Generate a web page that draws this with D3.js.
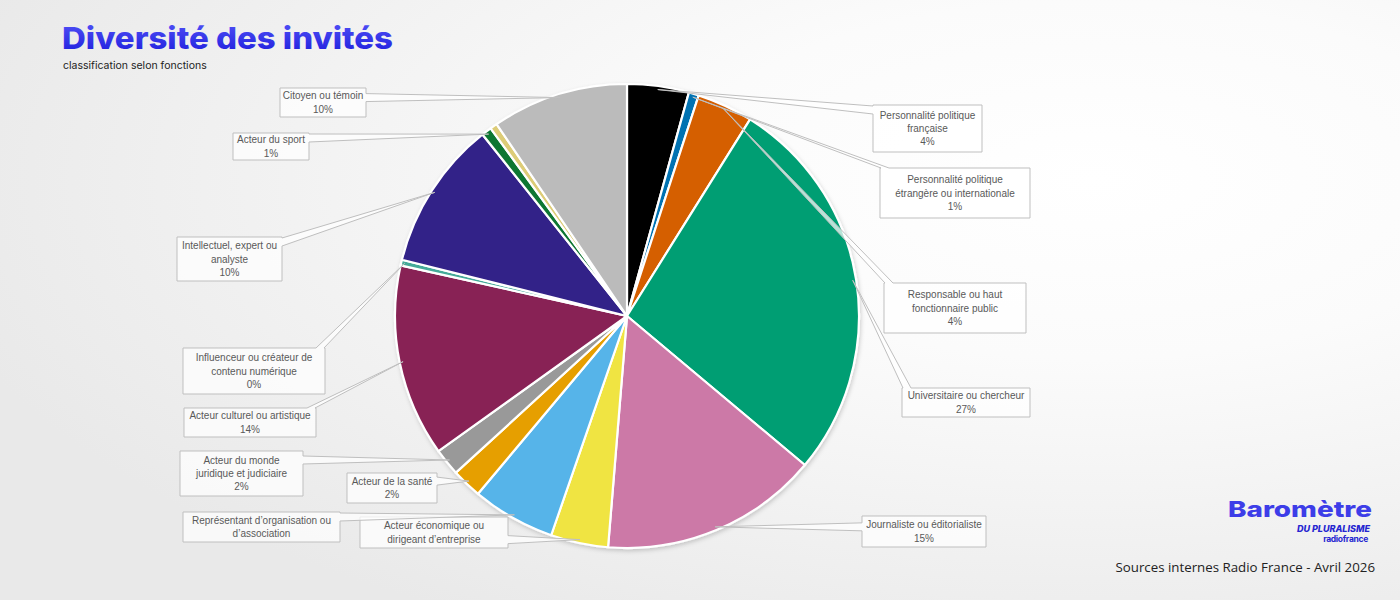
<!DOCTYPE html>
<html>
<head>
<meta charset="utf-8">
<script src="https://cdn.jsdelivr.net/npm/d3@7"></script>
<style>
  body { margin: 0; padding: 0; overflow: hidden; }
  #chart svg { display: block; }
</style>
</head>
<body>
<div id="chart"></div>
<script>
// categories, clockwise from 12 o'clock
var categories = [
  "Personnalité politique\nfrançaise",
  "Personnalité politique\nétrangère ou internationale",
  "Responsable ou haut\nfonctionnaire public",
  "Universitaire ou chercheur",
  "Journaliste ou éditorialiste",
  "Acteur économique ou\ndirigeant d’entreprise",
  "Représentant d’organisation ou\nd’association",
  "Acteur de la santé",
  "Acteur du monde\njuridique et judiciaire",
  "Acteur culturel ou artistique",
  "Influenceur ou créateur de\ncontenu numérique",
  "Intellectuel, expert ou\nanalyste",
  "Acteur du sport",
  "Autre",
  "Citoyen ou témoin"
];

// share of guests (%)
var values = [4.3, 0.7, 3.9, 27.2, 15.2, 4.0, 5.8, 2.1, 1.9, 13.4, 0.4, 10.4, 0.7, 0.5, 9.5];

// percentage shown in each label ("" where the picture shows none)
var pctLabels = ["4%", "1%", "4%", "27%", "15%", "", "", "2%", "2%", "14%", "0%", "10%", "1%", null, "10%"];

var colors = ["#000000", "#0072b2", "#d55e00", "#009e73", "#cc79a7", "#f0e442", "#56b4e9",
              "#e69f00", "#999999", "#882255", "#44aa99", "#332288", "#117733", "#ddcc77", "#bbbbbb"];

// callout boxes: [x, y, width, height]
var boxes = [
  [873, 105, 109, 47],
  [880, 168, 150, 50],
  [884, 283, 142, 50],
  [902, 388, 128, 29],
  [862, 516, 124, 31],
  [360, 517, 148, 31],
  [183, 512, 157, 30],
  [347, 473, 90, 30],
  [180, 451, 123, 45],
  [184, 408, 132, 29],
  [183, 348, 142, 46],
  [177, 237, 105, 44],
  [233, 133, 76, 27],
  null,
  [280, 88, 86, 29]
];

function init() {
  var w = 1400, h = 600;
  var cx = 627, cy = 316, R = 232;

  var svg = d3.select("#chart").append("svg")
    .attr("width", w).attr("height", h);

  var defs = svg.append("defs");

  var bg = defs.append("radialGradient").attr("id", "bg")
    .attr("cx", "0.78").attr("cy", "0.3").attr("r", "0.85");
  bg.append("stop").attr("offset", "0").attr("stop-color", "#ffffff");
  bg.append("stop").attr("offset", "0.35").attr("stop-color", "#fbfbfb");
  bg.append("stop").attr("offset", "1").attr("stop-color", "#e9e9e9");

  var tg = defs.append("linearGradient").attr("id", "titleGrad")
    .attr("x1", 0).attr("y1", 0).attr("x2", 0).attr("y2", 1);
  tg.append("stop").attr("offset", "0").attr("stop-color", "#5252f7");
  tg.append("stop").attr("offset", "1").attr("stop-color", "#1c1cdc");

  var sh = defs.append("filter").attr("id", "shadow")
    .attr("x", "-10%").attr("y", "-10%").attr("width", "120%").attr("height", "120%");
  sh.append("feDropShadow").attr("dx", 1).attr("dy", 2).attr("stdDeviation", 2)
    .attr("flood-color", "#000").attr("flood-opacity", 0.18);

  svg.append("rect").attr("width", w).attr("height", h).attr("fill", "url(#bg)");

  // title
  svg.append("text")
    .attr("x", 62).attr("y", 49)
    .attr("font-family", "Inter, 'Noto Sans', sans-serif")
    .attr("font-weight", 800)
    .attr("font-size", 30)
    .attr("textLength", 331).attr("lengthAdjust", "spacingAndGlyphs")
    .attr("fill", "url(#titleGrad)")
    .text("Diversité des invités");

  svg.append("text")
    .attr("x", 63).attr("y", 69)
    .attr("font-family", "Inter, 'Noto Sans', sans-serif")
    .attr("font-size", 10.5)
    .attr("fill", "#222")
    .text("classification selon fonctions");

  // pie
  var pie = d3.pie().sort(null).value(function(d) { return d; });
  var arcs = pie(values);
  var arc = d3.arc().innerRadius(0).outerRadius(R);
  var tipArc = d3.arc().innerRadius(R * 0.985).outerRadius(R * 0.985);

  var g = svg.append("g").attr("transform", "translate(" + cx + "," + cy + ")");
  g.append("g").attr("filter", "url(#shadow)")
    .selectAll("path")
    .data(arcs)
    .enter()
    .append("path")
    .attr("d", arc)
    .attr("fill", function(d, i) { return colors[i]; })
    .attr("stroke", "#ffffff")
    .attr("stroke-width", 2.2)
    .attr("stroke-linejoin", "round");

  // callout shape: rectangle with a wedge to the tip
  function calloutPath(b, tx, ty) {
    var x0 = b[0], y0 = b[1], x1 = b[0] + b[2], y1 = b[1] + b[3];
    var bx = (x0 + x1) / 2, by = (y0 + y1) / 2;
    var dx = (tx - bx) / (b[2] / 2), dy = (ty - by) / (b[3] / 2);
    var side;
    if (Math.abs(dx) >= Math.abs(dy)) side = dx > 0 ? "r" : "l";
    else side = dy > 0 ? "b" : "t";
    var bw = 8;
    function clamp(v, a, c) { return Math.max(a + bw / 2 + 1, Math.min(c - bw / 2 - 1, v)); }
    var p = d3.path();
    p.moveTo(x0, y0);
    if (side === "t") {
      var m = clamp(tx, x0, x1);
      p.lineTo(m - bw / 2, y0); p.lineTo(tx, ty); p.lineTo(m + bw / 2, y0);
    }
    p.lineTo(x1, y0);
    if (side === "r") {
      var m2 = clamp(ty, y0, y1);
      p.lineTo(x1, m2 - bw / 2); p.lineTo(tx, ty); p.lineTo(x1, m2 + bw / 2);
    }
    p.lineTo(x1, y1);
    if (side === "b") {
      var m3 = clamp(tx, x0, x1);
      p.lineTo(m3 + bw / 2, y1); p.lineTo(tx, ty); p.lineTo(m3 - bw / 2, y1);
    }
    p.lineTo(x0, y1);
    if (side === "l") {
      var m4 = clamp(ty, y0, y1);
      p.lineTo(x0, m4 + bw / 2); p.lineTo(tx, ty); p.lineTo(x0, m4 - bw / 2);
    }
    p.closePath();
    return p.toString();
  }

  var labels = svg.append("g");
  arcs.forEach(function(a, i) {
    var b = boxes[i];
    if (!b || pctLabels[i] === null) return;
    var c = tipArc.centroid(a);
    var tx = cx + c[0], ty = cy + c[1];

    var lg = labels.append("g");
    lg.append("path")
      .attr("d", calloutPath(b, tx, ty))
      .attr("fill", "#ffffff")
      .attr("fill-opacity", 0.72)
      .attr("stroke", "#bfbfbf")
      .attr("stroke-width", 1);

    var lines = categories[i].split("\n");
    if (pctLabels[i]) lines.push(pctLabels[i]);
    var lh = 13.4;
    var midY = b[1] + b[3] / 2;
    var firstY = midY - (lines.length - 1) * lh / 2;
    lg.selectAll("text")
      .data(lines)
      .enter()
      .append("text")
      .attr("x", b[0] + b[2] / 2)
      .attr("y", function(d, k) { return firstY + k * lh; })
      .attr("dy", "0.35em")
      .attr("text-anchor", "middle")
      .attr("font-family", "'Liberation Sans', sans-serif")
      .attr("font-size", 10)
      .attr("fill", "#595959")
      .text(function(d) { return d; });
  });

  // logo
  var logo = svg.append("g").attr("font-family", "Inter, 'Noto Sans', sans-serif");
  logo.append("text")
    .attr("x", 1228).attr("y", 517)
    .attr("font-size", 22).attr("font-weight", 800)
    .attr("textLength", 144).attr("lengthAdjust", "spacingAndGlyphs")
    .attr("fill", "#3d3de8")
    .text("Baromètre");
  logo.append("text")
    .attr("x", 1370).attr("y", 532)
    .attr("text-anchor", "end")
    .attr("font-size", 9).attr("font-weight", 800).attr("font-style", "italic")
    .attr("fill", "#2525d0")
    .text("DU PLURALISME");
  logo.append("text")
    .attr("x", 1368).attr("y", 542)
    .attr("text-anchor", "end")
    .attr("font-size", 8.5).attr("font-weight", 700)
    .attr("letter-spacing", -0.3)
    .attr("fill", "#2525d0")
    .text("radiofrance");

  svg.append("text")
    .attr("x", 1375).attr("y", 572)
    .attr("text-anchor", "end")
    .attr("font-family", "'Open Sans', 'Noto Sans', sans-serif")
    .attr("font-size", 13.3)
    .attr("fill", "#222")
    .text("Sources internes Radio France - Avril 2026");
}

window.onload = init;
</script>
</body>
</html>
